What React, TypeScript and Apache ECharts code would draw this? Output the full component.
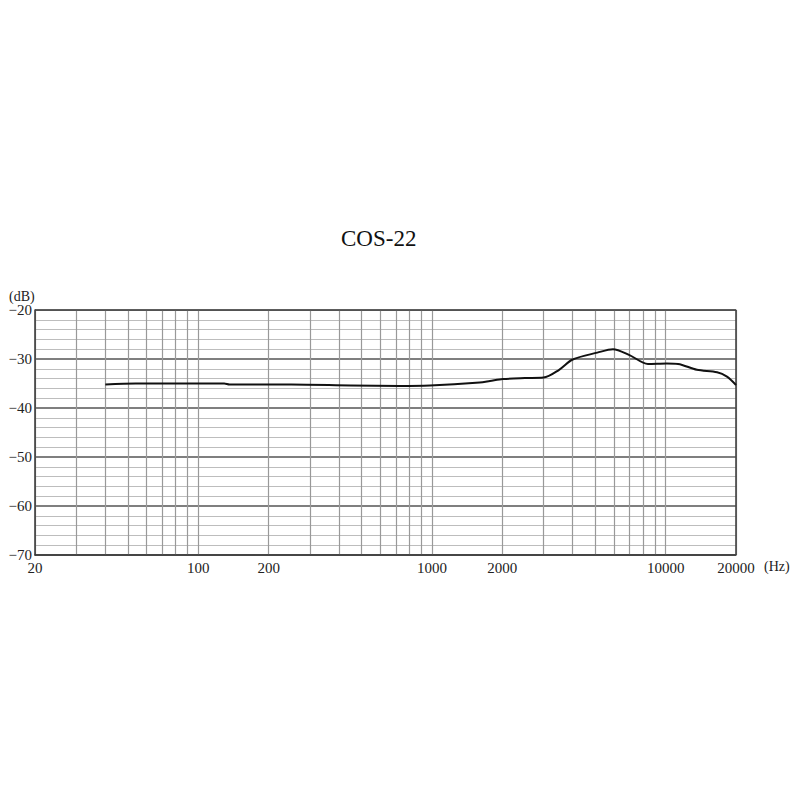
import { useEffect, useRef } from "react";
import * as echarts from "echarts";

const TITLE = "COS-22";
// measured response, Hz / dB
const FREQS = [40, 54, 80, 129, 136, 250, 450, 730, 980, 1600, 1770, 2010, 2500, 3000, 3500, 4000, 5100, 5950, 7000, 8400, 10100, 11300, 13600, 16600, 18300, 20000];
const LEVELS = [-35.2, -35.0, -35.0, -35.0, -35.2, -35.2, -35.4, -35.5, -35.4, -34.8, -34.5, -34.1, -33.9, -33.8, -32.2, -30.1, -28.7, -28.0, -29.2, -31.0, -30.9, -31.0, -32.2, -32.7, -33.6, -35.3];

// vertical grid lines and labelled frequencies
const GRID_FREQS = [20, 30, 40, 50, 60, 70, 80, 90, 100, 200, 300, 400, 500, 600, 700, 800, 900, 1000, 2000, 3000, 4000, 5000, 6000, 7000, 8000, 9000, 10000, 20000];
const LABEL_FREQS = [20, 100, 200, 1000, 2000, 10000, 20000];

const FONT = "Liberation Serif";

export default function App() {
  const ref = useRef<HTMLDivElement | null>(null);

  useEffect(() => {
    if (!ref.current) return;
    const chart = echarts.init(ref.current, undefined, { renderer: "svg" });

    const lg = (f: number) => Math.log10(f);
    const data = FREQS.map((f, i) => [lg(f), LEVELS[i]]);

    chart.setOption({
      animation: false,
      backgroundColor: "#ffffff",
      title: {
        text: TITLE,
        left: 336,
        top: 222,
        textStyle: { fontFamily: FONT, fontSize: 23, fontWeight: "normal", color: "#111" },
      },
      graphic: [
        {
          type: "text",
          left: 9,
          top: 289,
          style: { text: "(dB)", fontFamily: FONT, fontSize: 14, fill: "#222" },
        },
        {
          type: "text",
          left: 764,
          top: 559,
          style: { text: "(Hz)", fontFamily: FONT, fontSize: 14, fill: "#222" },
        },
      ],
      grid: { left: 35, right: 64, top: 310, bottom: 245 },
      xAxis: {
        type: "value",
        min: lg(20),
        max: lg(20000),
        axisLine: { show: true, lineStyle: { color: "#333", width: 1.5 } },
        axisTick: { show: false, customValues: GRID_FREQS.map(lg) },
        axisLabel: {
          customValues: LABEL_FREQS.map(lg),
          formatter: (v: number) => String(Math.round(Math.pow(10, v))),
          fontFamily: FONT,
          fontSize: 15,
          color: "#222",
          margin: 5,
        },
        splitLine: { show: true, lineStyle: { color: "#999", width: 1.2 } },
      },
      yAxis: {
        type: "value",
        min: -70,
        max: -20,
        interval: 10,
        axisLine: { show: true, lineStyle: { color: "#333", width: 1.5 } },
        axisTick: { show: false },
        axisLabel: {
          formatter: (v: number) => "\u2212" + Math.abs(v),
          fontFamily: FONT,
          fontSize: 15,
          color: "#222",
          margin: 3,
        },
        splitLine: { show: true, lineStyle: { color: "#555", width: 1.6 } },
        minorTick: { show: false, splitNumber: 5 },
        minorSplitLine: { show: true, lineStyle: { color: "#bdbdbd", width: 1.2 } },
      },
      series: [
        {
          type: "line",
          data,
          smooth: 0.3,
          showSymbol: false,
          lineStyle: { color: "#111", width: 2 },
          z: 5,
        },
        {
          // frame on top and right
          type: "line",
          data: [
            [lg(20), -20],
            [lg(20000), -20],
            [lg(20000), -70],
          ],
          showSymbol: false,
          lineStyle: { color: "#444", width: 1.6 },
          silent: true,
          z: 3,
        },
      ],
    });

    return () => chart.dispose();
  }, []);

  return <div ref={ref} style={{ width: 800, height: 800, margin: -8 }} />;
}
